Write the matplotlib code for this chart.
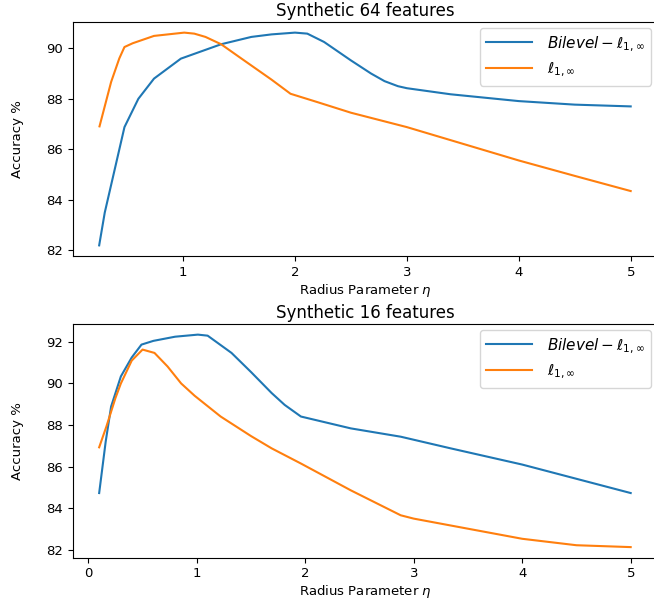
import matplotlib
matplotlib.use("Agg")
import matplotlib.pyplot as plt

# Synthetic 64 features
eta_64_bilevel = [0.25, 0.3, 0.387, 0.476, 0.6, 0.74, 0.98, 1.34, 1.61, 1.79, 2.0, 2.11,
                  2.26, 2.5, 2.68, 2.8, 2.92, 3.0, 3.39, 4.0, 4.5, 5.0]
acc_64_bilevel = [82.2, 83.5, 85.17, 86.88, 88.0, 88.8, 89.59, 90.16, 90.45, 90.55, 90.62, 90.58,
                  90.25, 89.52, 89.0, 88.7, 88.5, 88.42, 88.18, 87.91, 87.77, 87.7]

eta_64_l1 = [0.253, 0.357, 0.43, 0.476, 0.55, 0.74, 1.01, 1.1, 1.2, 1.34, 1.5, 1.79, 1.96,
             2.2, 2.5, 3.0, 3.5, 4.0, 4.5, 5.0]
acc_64_l1 = [86.91, 88.67, 89.6, 90.05, 90.2, 90.49, 90.62, 90.58, 90.45, 90.16, 89.66, 88.76, 88.2,
             87.87, 87.45, 86.88, 86.22, 85.56, 84.95, 84.35]

# Synthetic 16 features
eta_16_bilevel = [0.1, 0.16, 0.21, 0.3, 0.4, 0.49, 0.6, 0.8, 1.01, 1.1, 1.32, 1.5, 1.69,
                  1.81, 1.96, 2.42, 2.88, 3.34, 4.0, 5.0]
acc_16_bilevel = [84.73, 87.2, 88.89, 90.34, 91.25, 91.87, 92.05, 92.25, 92.35, 92.3, 91.47, 90.55, 89.54,
                  88.97, 88.41, 87.84, 87.44, 86.88, 86.1, 84.73]

eta_16_l1 = [0.1, 0.166, 0.25, 0.3, 0.4, 0.5, 0.61, 0.73, 0.856, 0.98, 1.22, 1.5, 1.69, 1.96,
             2.42, 2.88, 3.0, 3.34, 4.0, 4.5, 5.0]
acc_16_l1 = [86.93, 87.92, 89.3, 90.0, 91.1, 91.63, 91.47, 90.82, 90.0, 89.41, 88.41, 87.47, 86.88, 86.15,
             84.86, 83.66, 83.5, 83.17, 82.53, 82.22, 82.13]

label_bilevel = r'$Bilevel-\ell_{1,\infty}$'
label_l1 = r'$\ell_{1,\infty}$'


def dibujar(ax, eta_b, acc_b, eta_l, acc_l, titulo, xticks, yticks):
    ax.plot(eta_b, acc_b, label=label_bilevel)
    ax.plot(eta_l, acc_l, label=label_l1)
    ax.set_title(titulo, fontsize=12, pad=4)
    ax.set_xlabel(r'Radius Parameter $\eta$', fontsize=9.5, labelpad=2)
    ax.set_ylabel('Accuracy %', fontsize=9.5)
    ax.yaxis.set_label_coords(-0.083, 0.5)
    ax.set_xticks(xticks)
    ax.set_yticks(yticks)
    ax.tick_params(labelsize=9.5)
    ax.legend(loc='upper right', fontsize=11, handlelength=3.0, handletextpad=1.0,
              borderaxespad=0.4)


fig = plt.figure(figsize=(6.54, 5.99), dpi=100)
ax1 = fig.add_axes([0.111, 0.5726, 0.894, 0.3907])
ax2 = fig.add_axes([0.111, 0.0689, 0.894, 0.3902])

dibujar(ax1, eta_64_bilevel, acc_64_bilevel, eta_64_l1, acc_64_l1,
        'Synthetic 64 features', [1, 2, 3, 4, 5], [82, 84, 86, 88, 90])
dibujar(ax2, eta_16_bilevel, acc_16_bilevel, eta_16_l1, acc_16_l1,
        'Synthetic 16 features', [0, 1, 2, 3, 4, 5], [82, 84, 86, 88, 90, 92])

fig.savefig('out.png', dpi=100)
